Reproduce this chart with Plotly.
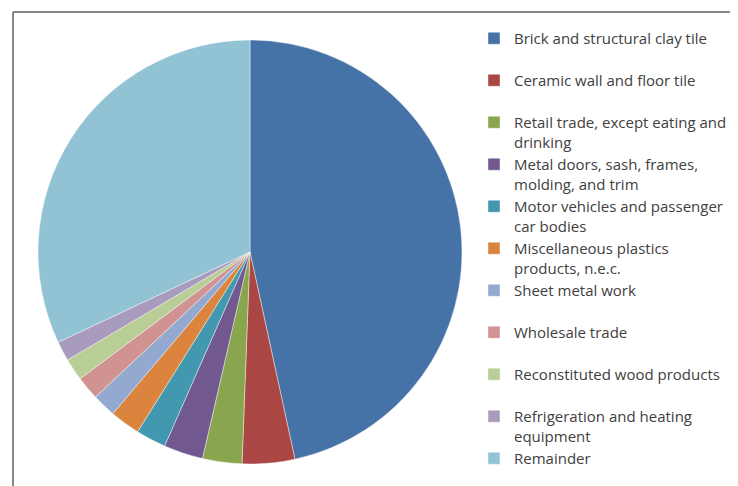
import plotly.graph_objects as go

labels = [
    "Brick and structural clay tile",
    "Ceramic wall and floor tile",
    "Retail trade, except eating and<br>drinking",
    "Metal doors, sash, frames,<br>molding, and trim",
    "Motor vehicles and passenger<br>car bodies",
    "Miscellaneous plastics<br>products, n.e.c.",
    "Sheet metal work",
    "Wholesale trade",
    "Reconstituted wood products",
    "Refrigeration and heating<br>equipment",
    "Remainder",
]
values = [46.6, 4.0, 3.0, 3.0, 2.3, 2.3, 1.8, 1.8, 1.7, 1.5, 32.0]
colors = ["#4572A7", "#AA4643", "#89A54E", "#71588F", "#4198AF", "#DB843D",
          "#93A9CF", "#D19392", "#B9CD96", "#A99BBD", "#92C3D4"]

# pad single-line labels so every legend entry spans two lines
legend_labels = [l if "<br>" in l else l + "<br> " for l in labels]

W, H = 738, 486
OFF = 8  # page body margin
fig = go.Figure(go.Pie(
    labels=legend_labels,
    values=values,
    sort=False,
    direction="clockwise",
    rotation=0,
    textinfo="none",
    hoverinfo="label+percent",
    marker=dict(colors=colors, line=dict(color="rgba(255,255,255,0.6)", width=0.7)),
    domain=dict(x=[(38 - OFF) / W, (462 - OFF) / W],
                y=[(H - (464 - OFF)) / H, (H - (40 - OFF)) / H]),
))

fig.update_layout(
    width=W, height=H,
    margin=dict(l=0, r=0, t=0, b=0),
    paper_bgcolor="white",
    showlegend=True,
    legend=dict(
        x=(474 - OFF) / W, xanchor="left",
        y=1 - (35 - OFF) / H, yanchor="top",
        valign="top",
        font=dict(family="Open Sans", size=15, color="#404040"),
        bgcolor="rgba(0,0,0,0)",
        tracegroupgap=0,
    ),
    shapes=[
        dict(type="line", xref="paper", yref="paper",
             x0=(13 - OFF) / W, x1=(13 - OFF) / W, y0=-0.05, y1=(H - (12 - OFF)) / H,
             line=dict(color="#868686", width=2)),
        dict(type="line", xref="paper", yref="paper",
             x0=(13 - OFF) / W, x1=1.05, y0=(H - (12 - OFF)) / H, y1=(H - (12 - OFF)) / H,
             line=dict(color="#868686", width=2)),
    ],
)

fig.write_html("out.html")
